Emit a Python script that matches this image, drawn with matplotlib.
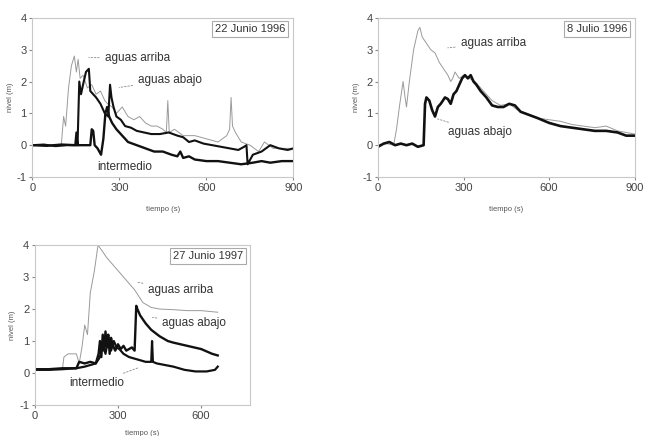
import matplotlib
matplotlib.use('Agg')
import matplotlib.pyplot as plt

plt.rcParams['font.family'] = ['Liberation Sans', 'DejaVu Sans']
plt.rcParams['axes.unicode_minus'] = False

# 22 Junio 1996
t1_arriba = [0, 60, 100, 108, 115, 125, 135, 145, 152, 158, 165, 175, 190, 205, 220, 235, 250, 260, 275, 290,
             310, 330, 350, 370, 390, 410, 430, 450, 462, 467, 472, 490, 520, 560, 600, 640, 670, 680, 685, 690,
             700, 720, 750, 780, 800, 830, 860, 900]
n1_arriba = [0, 0, 0, 0.9, 0.6, 1.8, 2.5, 2.8, 2.3, 2.7, 2.1, 2.2, 1.8, 1.9, 1.6, 1.7, 1.4, 1.3, 1.2, 1.0,
             1.2, 0.9, 0.8, 0.9, 0.7, 0.6, 0.6, 0.5, 0.4, 1.4, 0.4, 0.5, 0.3, 0.3, 0.2, 0.1, 0.3, 0.5, 1.5, 0.6,
             0.4, 0.1, 0.0, -0.2, 0.1, -0.1, -0.1, -0.1]
t1_abajo = [0, 40, 80, 120, 148, 152, 156, 162, 168, 175, 185, 195, 200, 210, 220, 235, 250, 262, 268, 273,
            280, 290, 305, 320, 340, 360, 385, 410, 440, 470, 500, 520, 540, 560, 590, 620, 650, 680, 710, 730,
            738, 742, 760, 790, 820, 850, 880, 900]
n1_abajo = [0, 0.02, -0.03, 0, 0, 0.4, 0, 2.0, 1.6, 1.9, 2.3, 2.4, 1.7, 1.6, 1.5, 1.3, 1.0, 0.9, 1.9, 1.5,
            1.2, 0.9, 0.8, 0.6, 0.55, 0.45, 0.4, 0.35, 0.35, 0.4, 0.3, 0.25, 0.1, 0.15, 0.05, 0.0, -0.05, -0.1, -0.15, -0.05,
            0.0, -0.6, -0.3, -0.2, 0.0, -0.1, -0.15, -0.1]
t1_inter = [0, 50, 100, 150, 200, 205, 210, 215, 225, 237, 245, 252, 258, 265, 275, 290, 310, 330, 360, 390,
            420, 450, 480, 500, 510, 520, 540, 560, 600, 640, 680, 720, 760, 790, 820, 860, 900]
n1_inter = [0, -0.02, 0.02, 0, 0, 0.5, 0.45, 0, -0.1, -0.3, 0.2, 1.0, 1.2, 0.9, 0.7, 0.5, 0.3, 0.1, 0.0, -0.1,
            -0.2, -0.2, -0.3, -0.35, -0.2, -0.4, -0.35, -0.45, -0.5, -0.5, -0.55, -0.6, -0.55, -0.5, -0.55, -0.5, -0.5]

# 8 Julio 1996
t2_arriba = [0, 30, 55, 65, 75, 88, 95, 100, 110, 125, 140, 147, 155, 170, 185, 200, 215, 230, 245, 255,
             262, 270, 285, 300, 320, 340, 370, 400, 430, 460, 490, 520, 560, 600, 640, 680, 720, 760, 800, 840,
             870, 900]
n2_arriba = [0, 0.05, 0, 0.5, 1.2, 2.0, 1.5, 1.2, 2.0, 3.0, 3.6, 3.7, 3.4, 3.2, 3.0, 2.9, 2.6, 2.4, 2.2, 2.0,
             2.1, 2.3, 2.1, 2.2, 2.1, 2.0, 1.7, 1.4, 1.25, 1.3, 1.1, 1.0, 0.85, 0.8, 0.75, 0.65, 0.6, 0.55, 0.6, 0.45,
             0.4, 0.35]
t2_abajo = [0, 20, 40, 60, 80, 100, 120, 140, 160, 165, 170, 180, 190, 200, 210, 220, 235, 245, 255, 265,
            275, 285, 295, 305, 315, 325, 335, 345, 360, 380, 400, 420, 440, 460, 480, 500, 530, 560, 600, 640,
            680, 720, 760, 800, 840, 870, 900]
n2_abajo = [-0.05, 0.05, 0.1, 0, 0.05, 0, 0.05, -0.05, 0, 1.3, 1.5, 1.4, 1.1, 0.9, 1.2, 1.3, 1.5, 1.45, 1.3, 1.6,
            1.7, 1.9, 2.1, 2.2, 2.1, 2.2, 2.0, 1.9, 1.7, 1.5, 1.25, 1.2, 1.2, 1.3, 1.25, 1.05, 0.95, 0.85, 0.7, 0.6,
            0.55, 0.5, 0.45, 0.45, 0.4, 0.3, 0.3]

# 27 Junio 1997
t3_arriba = [0, 50, 100, 105, 120, 150, 160, 170, 180, 190, 200, 215, 228, 260, 300, 330, 360, 390, 420, 450,
             500, 550, 600, 660]
n3_arriba = [0.1, 0.12, 0.15, 0.5, 0.6, 0.6, 0.3, 0.8, 1.5, 1.2, 2.5, 3.2, 4.0, 3.6, 3.2, 2.9, 2.6, 2.2, 2.05, 2.0,
             1.98, 1.95, 1.95, 1.9]
t3_abajo = [0, 50, 100, 150, 160, 180, 200, 220, 230, 235, 240, 245, 250, 255, 260, 265, 270, 275, 280, 290,
            300, 310, 320, 330, 340, 350, 360, 366, 370, 380, 400, 420, 450, 480, 500, 550, 600, 640, 660]
n3_abajo = [0.12, 0.12, 0.15, 0.15, 0.35, 0.3, 0.35, 0.3, 0.6, 1.0, 0.5, 1.2, 0.7, 1.3, 0.8, 1.2, 0.6, 1.1, 0.9, 0.7,
            0.9, 0.75, 0.85, 0.7, 0.75, 0.8, 0.7, 2.1, 2.0, 1.8, 1.55, 1.35, 1.15, 1.0, 0.95, 0.85, 0.75, 0.6, 0.55]
t3_inter = [0, 50, 100, 150, 180, 200, 220, 235, 245, 255, 265, 275, 285, 295, 305, 320, 340, 360, 380, 400,
            420, 423, 426, 440, 470, 500, 540, 580, 620, 650, 660]
n3_inter = [0.1, 0.1, 0.12, 0.15, 0.2, 0.25, 0.3, 0.5, 0.9, 0.6, 1.1, 0.7, 1.0, 0.8, 0.75, 0.6, 0.5, 0.45, 0.4, 0.35,
            0.35, 1.0, 0.35, 0.3, 0.25, 0.2, 0.1, 0.05, 0.05, 0.1, 0.2]

GREY = '#9a9a9a'


def style_axes(ax, xmax, xticks, title, xpad=10):
    ax.set_xlim(0, xmax)
    ax.set_ylim(-1, 4)
    ax.set_xticks(xticks)
    ax.set_yticks([-1, 0, 1, 2, 3, 4])
    for s in ax.spines.values():
        s.set_color('#c8c8c8')
        s.set_linewidth(0.8)
    ax.tick_params(labelsize=8, length=2, color='#888888', labelcolor='#444444', pad=2)
    ax.set_xlabel('tiempo (s)', fontsize=5.5, color='#555555', labelpad=xpad)
    ax.set_ylabel('nivel (m)', fontsize=5.5, color='#555555', labelpad=2)
    ax.text(0.97, 0.93, title, transform=ax.transAxes, ha='right', va='center', fontsize=8,
            color='#333333', bbox=dict(boxstyle='square,pad=0.25', fc='white', ec='#aaaaaa', lw=0.8))


def label(ax, txt, xy, xytext):
    ax.annotate(txt, xy=xy, xytext=xytext, fontsize=8.5, color='#333333', va='center',
                arrowprops=dict(arrowstyle='-', color='#888888', lw=0.6, ls=(0, (2, 2))))


fig = plt.figure(figsize=(6.45, 4.36), dpi=100)

ax1 = fig.add_axes([0.050, 0.594, 0.405, 0.365])
ax1.plot(t1_arriba, n1_arriba, color=GREY, lw=0.7)
ax1.plot(t1_inter, n1_inter, color='#111111', lw=1.7)
ax1.plot(t1_abajo, n1_abajo, color='#111111', lw=1.5)
style_axes(ax1, 900, [0, 300, 600, 900], '22 Junio 1996')
label(ax1, 'aguas arriba', (185, 2.75), (250, 2.75))
label(ax1, 'aguas abajo', (290, 1.8), (365, 2.05))
ax1.text(225, -0.68, 'intermedio', fontsize=8.5, color='#333333', va='center')

ax2 = fig.add_axes([0.586, 0.594, 0.398, 0.365])
ax2.plot(t2_arriba, n2_arriba, color=GREY, lw=0.7)
ax2.plot(t2_abajo, n2_abajo, color='#111111', lw=1.9)
style_axes(ax2, 900, [0, 300, 600, 900], '8 Julio 1996')
label(ax2, 'aguas arriba', (235, 3.05), (290, 3.2))
label(ax2, 'aguas abajo', (200, 0.85), (245, 0.42))

ax3 = fig.add_axes([0.054, 0.071, 0.333, 0.367])
ax3.plot(t3_arriba, n3_arriba, color=GREY, lw=0.7)
ax3.plot(t3_inter, n3_inter, color='#111111', lw=1.6)
ax3.plot(t3_abajo, n3_abajo, color='#111111', lw=1.7)
style_axes(ax3, 775, [0, 300, 600], '27 Junio 1997', xpad=7)
label(ax3, 'aguas arriba', (360, 2.85), (410, 2.6))
label(ax3, 'aguas abajo', (414, 1.75), (460, 1.56))
label(ax3, 'intermedio', (384, 0.2), (126, -0.31))

fig.savefig('out.png', dpi=100)
